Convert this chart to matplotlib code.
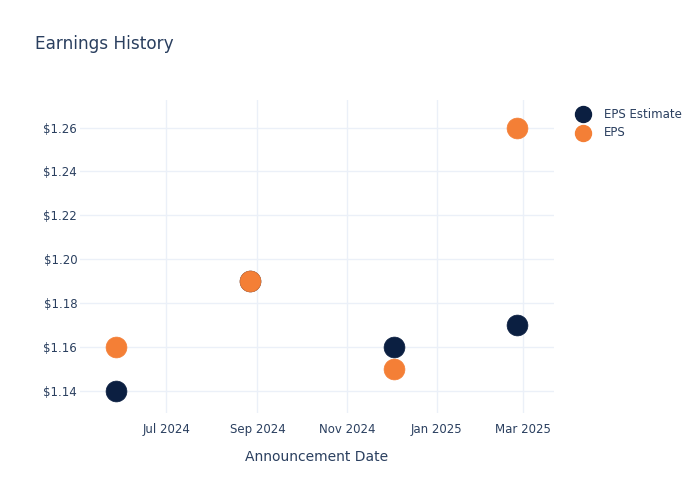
import matplotlib
matplotlib.use("Agg")
import matplotlib.pyplot as plt
import matplotlib.dates as mdates
from matplotlib.ticker import FuncFormatter
from datetime import datetime
from matplotlib.lines import Line2D

dates = ["2024-05-28", "2024-08-27", "2024-12-03", "2025-02-25"]
eps_estimate = [1.14, 1.19, 1.16, 1.17]
eps_actual = [1.16, 1.19, 1.15, 1.26]
series_names = ["EPS Estimate", "EPS"]
y_ticks = [1.14, 1.16, 1.18, 1.20, 1.22, 1.24, 1.26]
x_ticks = ["2024-07-01", "2024-09-01", "2024-11-01", "2025-01-01", "2025-03-01"]
x_tick_labels = ["Jul 2024", "Sep 2024", "Nov 2024", "Jan 2025", "Mar 2025"]

navy = "#0b1f41"
orange = "#f47f36"
text_color = "#2a3f5f"
grid_color = "#ebf0f8"

plt.rcParams['font.family'] = ['DejaVu Sans']

fig = plt.figure(figsize=(7, 5), dpi=100)
W, H = 700, 500
left, right, top, bottom = 80, 554, 100, 413
ax = fig.add_axes([left / W, 1 - bottom / H, (right - left) / W, (bottom - top) / H])

xd = [datetime.strptime(d, "%Y-%m-%d") for d in dates]
ax.scatter(xd, eps_estimate, s=15.0**2, color=navy, zorder=3, edgecolors=navy, linewidths=0.5)
ax.scatter(xd, eps_actual, s=15.0**2, color=orange, zorder=4, edgecolors=orange, linewidths=0.5)

ax.set_xlim(datetime(2024, 5, 3, 5), datetime(2025, 3, 22))
ax.set_ylim(1.1298, 1.2726)

ax.set_yticks(y_ticks)
ax.yaxis.set_major_formatter(FuncFormatter(lambda v, p: f"${v:.2f}"))
ax.set_xticks([datetime.strptime(d, "%Y-%m-%d") for d in x_ticks])
ax.set_xticklabels(x_tick_labels)

for s in ax.spines.values():
    s.set_visible(False)
ax.grid(True, color=grid_color, linewidth=1)
ax.set_axisbelow(True)
ax.tick_params(axis='both', length=0, labelsize=8.5, colors=text_color, pad=7)
ax.tick_params(axis='y', pad=2)

ax.set_xlabel("Announcement Date", fontsize=10, color=text_color, labelpad=10)

fig.text(35 / W, 1 - 44 / H, "Earnings History", fontsize=12.2, color=text_color, va="center", ha="left")

# legend
for i, (name, col) in enumerate(zip(series_names, [navy, orange])):
    yy = 1 - (114 + 19 * i) / H
    fig.add_artist(Line2D([583 / W], [yy], marker='o', markersize=11.5, color=col, linestyle='none',
                          transform=fig.transFigure))
    fig.text(604 / W, yy, name, fontsize=8.5, color=text_color, va="center", ha="left")

fig.savefig("out.png", dpi=100, facecolor="white")
